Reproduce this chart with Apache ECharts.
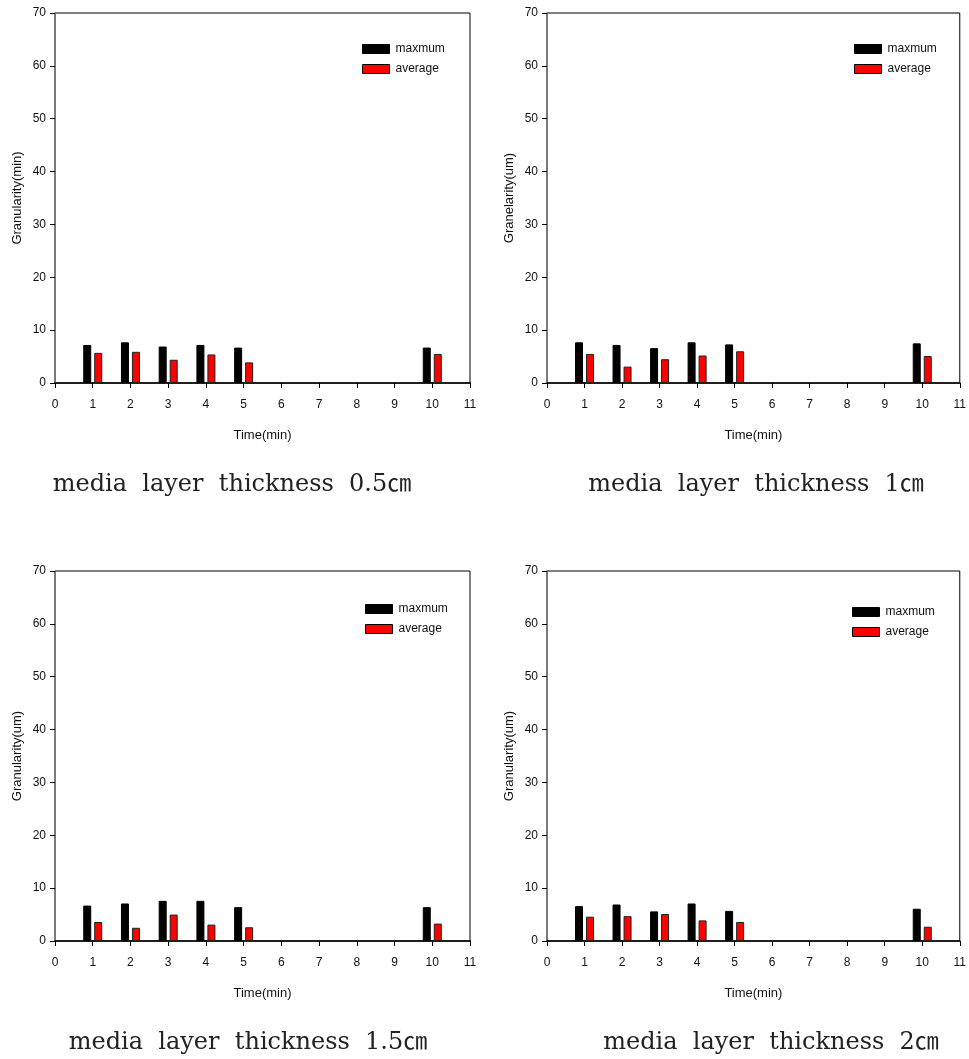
<!DOCTYPE html>
<html>
<head>
<meta charset="utf-8">
<script src="https://cdn.jsdelivr.net/npm/echarts@6/dist/echarts.min.js"></script>
<style>
  html, body { margin: 0; padding: 0; background: #fff; }
  #chart { width: 969px; height: 1059px; }
</style>
</head>
<body>
<div id="chart"></div>
<script>
// Sampling times (min) shared by all four panels
const times = [1, 2, 3, 4, 5, 10];
const xTicks = [0, 1, 2, 3, 4, 5, 6, 7, 8, 9, 10, 11];

// Granularity per media layer thickness: maximum and average
const max05 = [7.2, 7.7, 6.9, 7.2, 6.7, 6.7];
const avg05 = [5.7, 5.9, 4.4, 5.4, 3.9, 5.5];
const max10 = [7.7, 7.2, 6.6, 7.7, 7.3, 7.5];
const avg10 = [5.5, 3.1, 4.5, 5.2, 6.0, 5.1];
const max15 = [6.7, 7.1, 7.6, 7.6, 6.4, 6.4];
const avg15 = [3.6, 2.5, 5.0, 3.1, 2.6, 3.3];
const max20 = [6.6, 6.9, 5.6, 7.1, 5.7, 6.1];
const avg20 = [4.6, 4.7, 5.1, 3.9, 3.6, 2.7];

const captions = [
  'media  layer  thickness  0.5\u339D',
  'media  layer  thickness  1\u339D',
  'media  layer  thickness  1.5\u339D',
  'media  layer  thickness  2\u339D'
];
const yNames = ['Granularity(min)', 'Granelarity(um)', 'Granularity(um)', 'Granularity(um)'];
const seriesNames = ['maxmum', 'average'];

const panels = [
  { left: 55, top: 13, width: 415, max: max05, avg: avg05, cap: [232, 473], leg: [362, 43] },
  { left: 547, top: 13, width: 414, max: max10, avg: avg10, cap: [756, 473], leg: [854, 43] },
  { left: 55, top: 571, width: 415, max: max15, avg: avg15, cap: [248, 1031], leg: [365, 603] },
  { left: 547, top: 571, width: 414, max: max20, avg: avg20, cap: [771, 1031], leg: [852, 606] }
];

const sans = 'Liberation Sans Narrow, Liberation Sans, Arial';
const axisFont = { fontFamily: sans, fontSize: 12, color: '#111' };

const grid = [], xAxis = [], yAxis = [], series = [], legend = [], title = [];

panels.forEach((p, i) => {
  grid.push({
    left: p.left, top: p.top, width: p.width, height: 370,
    show: true, borderColor: '#000', borderWidth: 1, backgroundColor: '#fff'
  });
  xAxis.push({
    type: 'value', gridIndex: i, min: xTicks[0], max: xTicks[xTicks.length - 1], interval: 1,
    name: 'Time(min)', nameLocation: 'middle', nameGap: 46,
    nameTextStyle: { fontFamily: sans, fontSize: 13, color: '#111' },
    axisLine: { lineStyle: { color: '#000', width: 1.5 } },
    axisTick: { show: true, inside: false, length: 5, lineStyle: { color: '#000' } },
    axisLabel: Object.assign({ margin: 16 }, axisFont),
    splitLine: { show: false }
  });
  yAxis.push({
    type: 'value', gridIndex: i, min: 0, max: 70, interval: 10,
    name: yNames[i], nameLocation: 'middle', nameGap: 31,
    nameTextStyle: { fontFamily: sans, fontSize: 13, color: '#111' },
    axisLine: { show: true, lineStyle: { color: '#777', width: 1.5 } },
    axisTick: { show: true, inside: false, length: 5, lineStyle: { color: '#000' } },
    axisLabel: Object.assign({ margin: 9 }, axisFont),
    splitLine: { show: false }
  });
  series.push({
    name: seriesNames[0], type: 'bar', xAxisIndex: i, yAxisIndex: i,
    data: times.map((t, k) => [t, p.max[k]]),
    barWidth: 8, barGap: '37.5%',
    itemStyle: { color: '#000', borderColor: '#000', borderWidth: 1 }
  });
  series.push({
    name: seriesNames[1], type: 'bar', xAxisIndex: i, yAxisIndex: i,
    data: times.map((t, k) => [t, p.avg[k]]),
    barWidth: 8, barGap: '37.5%',
    itemStyle: { color: '#ff0000', borderColor: '#222', borderWidth: 1 }
  });
  legend.push({
    data: seriesNames.map(n => ({ name: n, icon: 'rect' })),
    orient: 'vertical', left: p.leg[0], top: p.leg[1], padding: 0,
    itemWidth: 27, itemHeight: 9, itemGap: 8, selectedMode: false,
    textStyle: { fontFamily: sans, fontSize: 12, color: '#111', padding: [0, 0, 0, 1] },
    itemStyle: { borderColor: '#000', borderWidth: 1 }
  });
  title.push({
    text: captions[i], left: p.cap[0], top: p.cap[1], textAlign: 'center', padding: 0,
    textStyle: { fontFamily: 'DejaVu Serif, Liberation Serif, Noto Sans CJK KR', fontSize: 24, fontWeight: 'normal', color: '#222' }
  });
});

const chart = echarts.init(document.getElementById('chart'), null, { renderer: 'canvas' });
chart.setOption({
  backgroundColor: '#fff',
  animation: false,
  title, grid, xAxis, yAxis, legend, series
});
</script>
</body>
</html>
